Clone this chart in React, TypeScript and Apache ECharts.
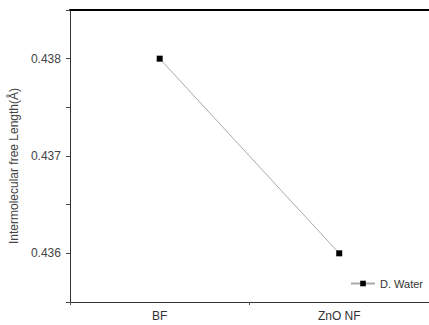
import React, { useEffect, useRef } from "react";
import * as echarts from "echarts";

const categories = ["BF", "ZnO NF"];
const seriesName = "D. Water";
const values = [0.438, 0.436];
const yLabelValues = [0.436, 0.437, 0.438];

const FONT = "'Liberation Sans', Arial, sans-serif";

export default function App() {
  const ref = useRef<HTMLDivElement>(null);
  useEffect(() => {
    if (!ref.current) return;
    const chart = echarts.init(ref.current, null, { renderer: "svg" });
    chart.setOption({
      animation: false,
      backgroundColor: "#fff",
      textStyle: { fontFamily: FONT },
      grid: { left: 69, top: 10, right: 0, bottom: 23 },
      legend: {
        data: [seriesName],
        right: 1,
        top: 273,
        itemWidth: 24,
        itemHeight: 7,
        itemGap: 4,
        textStyle: { fontSize: 11, color: "#333", fontFamily: FONT },
      },
      xAxis: [
        {
          type: "category",
          data: categories,
          position: "bottom",
          boundaryGap: true,
          axisLine: { lineStyle: { color: "#333", width: 1 } },
          axisTick: { alignWithLabel: true, length: 5, lineStyle: { color: "#333" } },
          axisLabel: { fontSize: 12, color: "#333", margin: 8, fontFamily: FONT },
          splitLine: { show: false },
        },
        {
          type: "value",
          min: 0,
          max: 2,
          interval: 1,
          position: "bottom",
          axisLine: { show: false },
          axisTick: { length: 3, lineStyle: { color: "#555" } },
          axisLabel: { show: false },
          splitLine: { show: false },
        },
        {
          type: "value",
          min: 0,
          max: 1,
          position: "top",
          axisLine: { show: true, lineStyle: { color: "#000", width: 2 } },
          axisTick: { show: false },
          axisLabel: { show: false },
          splitLine: { show: false },
        },
      ],
      yAxis: [
        {
          type: "value",
          min: 0.4355,
          max: 0.4385,
          interval: 0.0005,
          axisLine: { show: true, lineStyle: { color: "#333", width: 1 } },
          axisTick: { show: true, length: 4, lineStyle: { color: "#444" } },
          axisLabel: {
            formatter: (v: number) => {
              const hit = yLabelValues.find((t) => Math.abs(t - v) < 1e-7);
              return hit !== undefined ? hit.toFixed(3) : "";
            },
            fontSize: 12,
            color: "#444",
            margin: 9,
            fontFamily: FONT,
          },
          splitLine: { show: false },
          name: "Intermolecular free Length(Å)",
          nameLocation: "middle",
          nameGap: 40,
          nameTextStyle: { fontSize: 12, color: "#444", fontFamily: FONT, padding: [0, 20, 0, 0] },
        },
      ],
      series: [
        {
          name: seriesName,
          type: "line",
          data: values,
          xAxisIndex: 0,
          yAxisIndex: 0,
          symbol: "rect",
          symbolSize: 6,
          itemStyle: { color: "#000" },
          lineStyle: { color: "#aaa", width: 1 },
        },
      ],
    });
    return () => chart.dispose();
  }, []);
  return (
    <div
      ref={ref}
      style={{ position: "fixed", left: 0, top: 0, width: 429, height: 325 }}
    />
  );
}
